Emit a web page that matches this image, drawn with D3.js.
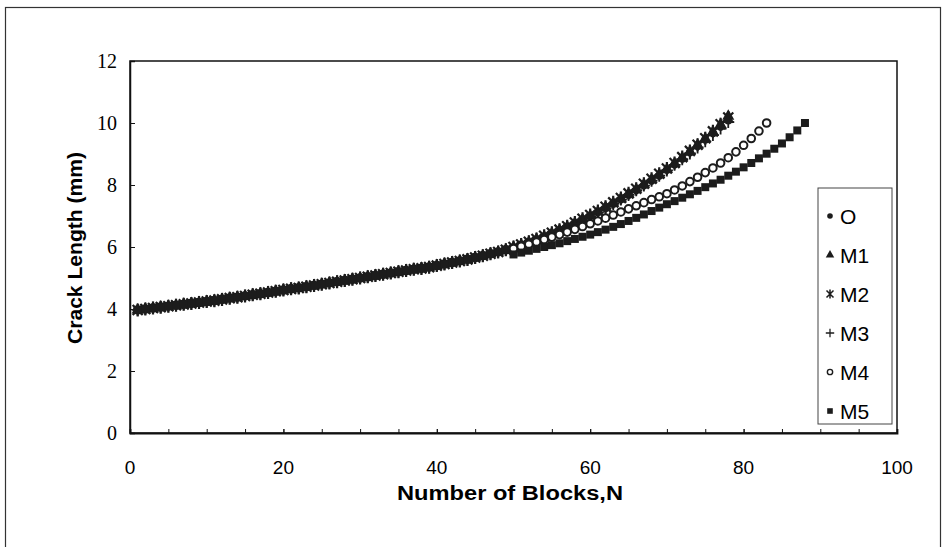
<!DOCTYPE html>
<html>
<head>
<meta charset="utf-8">
<script src="https://cdn.jsdelivr.net/npm/d3@7"></script>
<style>
  body { margin: 0; background: #fff; }
  svg { display: block; }
  .ylab { font-family: "Liberation Serif", "Times New Roman", serif; font-size: 20px; }
  .xlab { font-family: "Liberation Sans", Arial, sans-serif; font-size: 19px; }
  .title { font-family: "Liberation Sans", Arial, sans-serif; font-size: 20px; font-weight: bold; }
  .leg { font-family: "Liberation Sans", Arial, sans-serif; font-size: 21px; }
</style>
</head>
<body>
<div id="chart"></div>
<script>
// crack length (mm) per block
// all series lie on the same band up to block 49
var sharedEarly = [3.97, 4.00, 4.03, 4.06, 4.09, 4.12, 4.15, 4.18, 4.21, 4.24,
    4.27, 4.31, 4.35, 4.38, 4.42, 4.46, 4.49, 4.53, 4.57, 4.61,
    4.65, 4.68, 4.72, 4.76, 4.80, 4.84, 4.88, 4.92, 4.96, 5.00,
    5.04, 5.08, 5.12, 5.16, 5.20, 5.24, 5.28, 5.31, 5.35, 5.40,
    5.45, 5.50, 5.55, 5.60, 5.66, 5.72, 5.78, 5.84, 5.91];

// blocks 50 .. end
var lateO = [5.98, 6.06, 6.15, 6.24, 6.33, 6.43, 6.53, 6.64, 6.75, 6.87,
    6.99, 7.12, 7.25, 7.39, 7.53, 7.68, 7.83, 7.98, 8.14, 8.30,
    8.48, 8.66, 8.85, 9.05, 9.25, 9.46, 9.67, 9.88, 10.08];
var lateM1 = [5.99, 6.07, 6.16, 6.25, 6.34, 6.44, 6.54, 6.65, 6.77, 6.89,
    7.01, 7.14, 7.28, 7.42, 7.56, 7.71, 7.86, 8.02, 8.18, 8.34,
    8.51, 8.69, 8.88, 9.08, 9.29, 9.50, 9.72, 9.95, 10.22];
var lateM2 = [6.00, 6.08, 6.17, 6.26, 6.36, 6.46, 6.56, 6.67, 6.79, 6.91,
    7.03, 7.16, 7.30, 7.44, 7.58, 7.73, 7.88, 8.04, 8.20, 8.36,
    8.53, 8.71, 8.90, 9.10, 9.30, 9.51, 9.73, 9.96, 10.18];
var lateM3 = [5.98, 6.06, 6.15, 6.24, 6.33, 6.43, 6.53, 6.64, 6.75, 6.87,
    6.99, 7.12, 7.25, 7.39, 7.53, 7.68, 7.83, 7.98, 8.14, 8.30,
    8.47, 8.65, 8.83, 9.02, 9.21, 9.41, 9.61, 9.82, 10.03];
var lateM4 = [5.95, 6.02, 6.09, 6.16, 6.24, 6.32, 6.40, 6.48, 6.57, 6.66,
    6.75, 6.84, 6.93, 7.03, 7.13, 7.23, 7.33, 7.43, 7.53, 7.62,
    7.72, 7.84, 7.97, 8.11, 8.25, 8.40, 8.55, 8.71, 8.88, 9.07,
    9.28, 9.50, 9.74, 10.00];
var lateM5 = [5.76, 5.82, 5.88, 5.94, 6.00, 6.06, 6.12, 6.19, 6.26, 6.33,
    6.40, 6.48, 6.56, 6.65, 6.74, 6.84, 6.94, 7.05, 7.16, 7.27,
    7.38, 7.48, 7.59, 7.70, 7.81, 7.93, 8.05, 8.17, 8.30, 8.43,
    8.57, 8.71, 8.86, 9.01, 9.17, 9.34, 9.54, 9.76, 10.00];

var seriesNames = ["O", "M1", "M2", "M3", "M4", "M5"];
var seriesLate = [lateO, lateM1, lateM2, lateM3, lateM4, lateM5];

var xTicks = [0, 20, 40, 60, 80, 100];
var xMinorTicks = d3.range(5, 100, 5);
var yTicks = [0, 2, 4, 6, 8, 10, 12];

var W = 942, H = 547;
var margin = { top: 61, right: 45, bottom: 114, left: 130 };
var width = W - margin.left - margin.right;
var height = H - margin.top - margin.bottom;

var svg = d3.select("#chart").append("svg")
    .attr("width", W)
    .attr("height", H);

// outer chart border
svg.append("rect")
    .attr("x", 5.5).attr("y", 7.5)
    .attr("width", 935).attr("height", 560)
    .attr("fill", "none")
    .attr("stroke", "#333")
    .attr("stroke-width", 1.2);

var g = svg.append("g")
    .attr("transform", "translate(" + margin.left + "," + margin.top + ")");

var x = d3.scaleLinear().domain([0, 100]).range([0, width]);
var y = d3.scaleLinear().domain([0, 12]).range([height, 0]);

// plot frame
g.append("rect")
    .attr("width", width).attr("height", height)
    .attr("fill", "none")
    .attr("stroke", "#111")
    .attr("stroke-width", 1.5);

// y axis: ticks pointing inside, serif labels
var yAxis = g.append("g")
    .call(d3.axisRight(y).tickValues(yTicks).tickSize(5).tickFormat(""));
yAxis.select(".domain").attr("stroke", "#111").attr("stroke-width", 1.5);
yAxis.selectAll(".tick line").attr("stroke", "#111");

g.selectAll(".ylab")
    .data(yTicks)
    .enter().append("text")
    .attr("class", "ylab")
    .attr("x", -13)
    .attr("y", function (d) { return y(d); })
    .attr("dy", "0.35em")
    .attr("text-anchor", "end")
    .text(function (d) { return d; });

// x axis: minor ticks every 5 pointing up
var xAxis = g.append("g")
    .attr("transform", "translate(0," + height + ")")
    .call(d3.axisTop(x).tickValues(xMinorTicks.concat(xTicks)).tickSize(4).tickFormat(""));
xAxis.select(".domain").attr("stroke", "#111").attr("stroke-width", 1.8);
xAxis.selectAll(".tick line").attr("stroke", "#111");

g.selectAll(".xlab")
    .data(xTicks)
    .enter().append("text")
    .attr("class", "xlab")
    .attr("x", function (d) { return x(d); })
    .attr("y", height + 41)
    .attr("text-anchor", "middle")
    .text(function (d) { return d; });

// axis titles
svg.append("text")
    .attr("class", "title")
    .attr("x", 510)
    .attr("y", 500)
    .attr("text-anchor", "middle")
    .attr("textLength", 226)
    .attr("lengthAdjust", "spacingAndGlyphs")
    .text("Number of Blocks,N");

svg.append("text")
    .attr("class", "title")
    .attr("transform", "translate(82,248) rotate(-90)")
    .attr("text-anchor", "middle")
    .attr("textLength", 192)
    .attr("lengthAdjust", "spacingAndGlyphs")
    .text("Crack Length (mm)");

// marker shapes
var ink = "#1c1c1c";
var markers = {
    "O": function (sel) {
        sel.append("circle").attr("r", 4).attr("fill", ink);
    },
    "M1": function (sel) {
        sel.append("path").attr("d", d3.symbol(d3.symbolTriangle, 64)).attr("fill", ink);
    },
    "M2": function (sel) {
        sel.append("path")
            .attr("d", "M-5,-5L5,5M-5,5L5,-5M0,-6.5L0,6.5")
            .attr("stroke", ink).attr("stroke-width", 2.2).attr("fill", "none");
    },
    "M3": function (sel) {
        sel.append("path")
            .attr("d", "M-6,0L6,0M0,-6L0,6")
            .attr("stroke", ink).attr("stroke-width", 1.8).attr("fill", "none");
    },
    "M4": function (sel) {
        sel.append("circle").attr("r", 3.8).attr("fill", "#fff")
            .attr("stroke", ink).attr("stroke-width", 2);
    },
    "M5": function (sel) {
        sel.append("rect").attr("x", -4).attr("y", -4)
            .attr("width", 8).attr("height", 8).attr("fill", ink);
    }
};

seriesNames.forEach(function (name, i) {
    var vals = sharedEarly.concat(seriesLate[i]);
    var pts = vals.map(function (v, k) { return { n: k + 1, a: v }; });
    var pg = g.append("g").attr("class", "series-" + name);
    pg.selectAll("g.pt")
        .data(pts)
        .enter().append("g")
        .attr("class", "pt")
        .attr("transform", function (d) { return "translate(" + x(d.n) + "," + y(d.a) + ")"; })
        .each(function () { markers[name](d3.select(this)); });
});

// legend
var leg = svg.append("g").attr("transform", "translate(818,188)");
leg.append("rect")
    .attr("width", 74).attr("height", 236)
    .attr("fill", "#fff")
    .attr("stroke", "#444")
    .attr("stroke-width", 1);

seriesNames.forEach(function (name, i) {
    var row = leg.append("g").attr("transform", "translate(0," + (28 + i * 39) + ")");
    var m = row.append("g").attr("transform", "translate(12,0) scale(0.7)");
    markers[name](m);
    row.append("text")
        .attr("class", "leg")
        .attr("x", 22)
        .attr("dy", "0.36em")
        .text(name);
});
</script>
</body>
</html>
